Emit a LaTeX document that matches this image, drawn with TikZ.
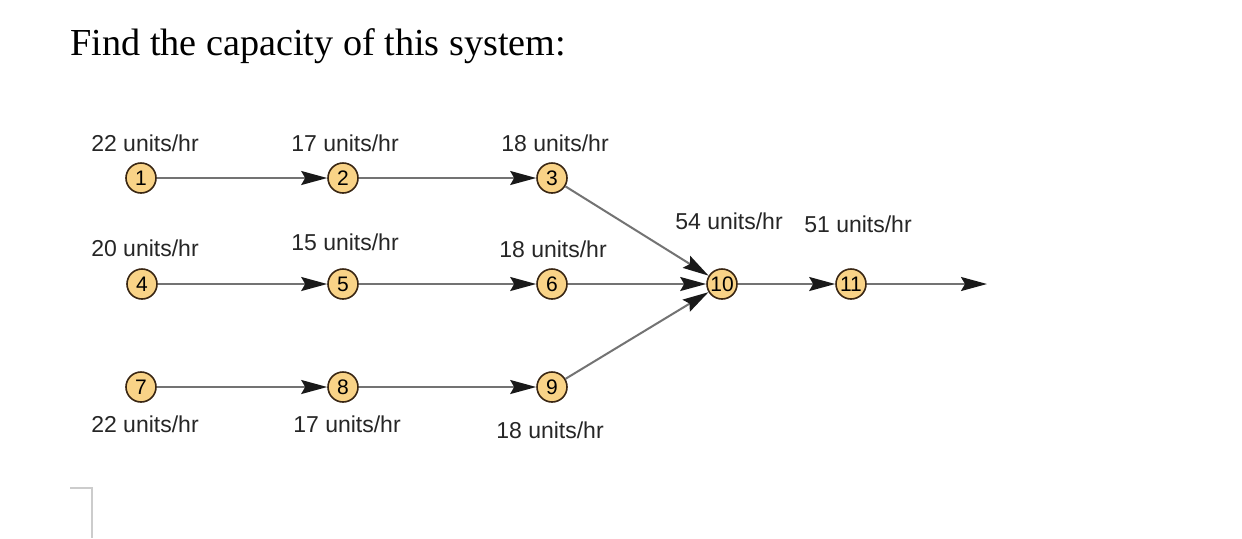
\documentclass[tikz,border=0pt]{standalone}
\usepackage{fontspec}
\setmainfont{Liberation Serif}
\newfontfamily\labelfont{Liberation Sans}
\usetikzlibrary{arrows.meta}
\begin{document}
\begin{tikzpicture}[x=0.5pt,y=-0.5pt,
  stn/.style={circle,draw=black!70!brown,line width=0.8pt,fill={rgb,255:red,249;green,211;blue,135},
    inner sep=0pt,minimum size=15pt,font=\labelfont\fontsize{10.5}{11}\selectfont},
  rate/.style={font=\labelfont\fontsize{11.5}{13}\selectfont,text=black!85,inner sep=0pt},
  flow/.style={draw=black!55,line width=1pt,-{Stealth[length=13pt,width=7pt,inset=2pt,black!90]}}]
\useasboundingbox (0,0) rectangle (1242,538);
\fill[white] (0,0) rectangle (1242,538);
\node[anchor=west,inner sep=0pt,font=\fontsize{19.1}{22}\selectfont] (title) at (70,46) {Find the capacity of this system:};
% stations
\node[stn] (n1) at (141,178) {1};
\node[stn] (n2) at (343,178) {2};
\node[stn] (n3) at (552,178) {3};
\node[stn] (n4) at (142,284) {4};
\node[stn] (n5) at (343,284) {5};
\node[stn] (n6) at (552,284) {6};
\node[stn] (n7) at (141,387) {7};
\node[stn] (n8) at (343,387) {8};
\node[stn] (n9) at (552,387) {9};
\node[stn] (n10) at (722,284) {10};
\node[stn] (n11) at (851,284) {11};
\coordinate (out) at (987,284);
% rates
\node[rate] (r1) at (145,143) {22 units/hr};
\node[rate] (r2) at (345,143) {17 units/hr};
\node[rate] (r3) at (555,143) {18 units/hr};
\node[rate] (r4) at (145,248) {20 units/hr};
\node[rate] (r5) at (345,242) {15 units/hr};
\node[rate] (r6) at (553,249) {18 units/hr};
\node[rate] (r7) at (145,424) {22 units/hr};
\node[rate] (r8) at (347,424) {17 units/hr};
\node[rate] (r9) at (550,430) {18 units/hr};
\node[rate] (r10) at (729,221) {54 units/hr};
\node[rate] (r11) at (858,224) {51 units/hr};
% connectors
\draw[flow] (n1) -- (n2);
\draw[flow] (n2) -- (n3);
\draw[flow] (n4) -- (n5);
\draw[flow] (n5) -- (n6);
\draw[flow] (n7) -- (n8);
\draw[flow] (n8) -- (n9);
\draw[flow] (n3) -- (n10);
\draw[flow] (n6) -- (n10);
\draw[flow] (n9) -- (n10);
\draw[flow] (n10) -- (n11);
\draw[flow] (n11) -- (out);
% cursor bracket
\draw[black!20,line width=1pt] (70,488) -- (92,488) -- (92,538);
\end{tikzpicture}
\end{document}
